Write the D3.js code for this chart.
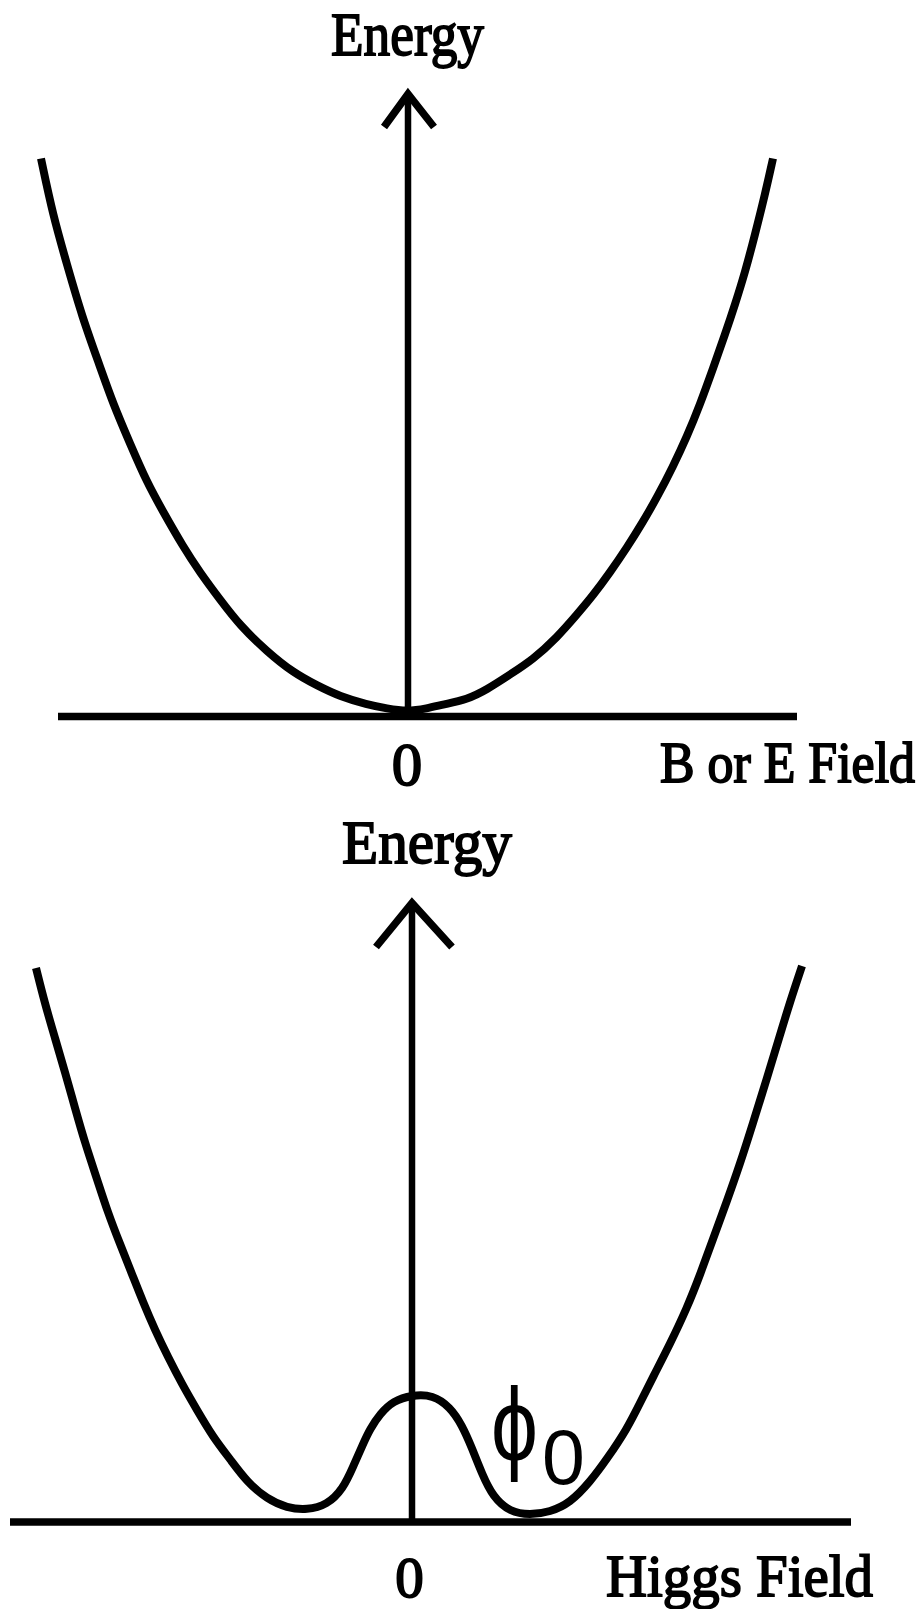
<!DOCTYPE html>
<html>
<head>
<meta charset="utf-8">
<script src="https://cdn.jsdelivr.net/npm/d3@7"></script>
<style>
  body { margin: 0; background: #fff; }
  svg { display: block; background: #fff; }
  .lbl {
    font-family: 'Liberation Serif', 'Times New Roman', serif;
    fill: #000;
    stroke: #000;
    stroke-width: 1.8px;
  }
  .greek { font-family: 'Liberation Sans', 'DejaVu Sans', sans-serif; fill: #000; }
</style>
</head>
<body>
<div class="container"></div>
<script>
// field values (1 unit ~ 100px) and energies
const bowlField = [-3.66, -3.54, -3.40, -3.25, -3.07, -2.94, -2.77, -2.60, -2.44, -2.24, -2.07, -1.87, -1.67, -1.40, -1.14, -0.90, -0.67, -0.40, -0.20, 0.00,
  0.20, 0.36, 0.60, 0.80, 1.03, 1.26, 1.50, 1.70, 1.86, 2.03, 2.20, 2.35, 2.50, 2.66, 2.80, 2.93, 3.06, 3.18, 3.28, 3.38, 3.48, 3.58, 3.66];
const bowlEnergy = [5.58, 5.01, 4.52, 4.00, 3.50, 3.13, 2.73, 2.34, 2.05, 1.70, 1.44, 1.17, 0.91, 0.65, 0.44, 0.31, 0.20, 0.12, 0.08, 0.05,
  0.08, 0.12, 0.17, 0.27, 0.42, 0.57, 0.79, 1.02, 1.21, 1.44, 1.69, 1.93, 2.19, 2.50, 2.80, 3.12, 3.48, 3.82, 4.12, 4.44, 4.82, 5.22, 5.58];

const higgsField = [-3.76, -3.67, -3.57, -3.47, -3.37, -3.27, -3.15, -3.04, -2.92, -2.80, -2.69, -2.57, -2.44, -2.30, -2.15, -1.99, -1.82, -1.65, -1.45, -1.25,
  -1.05, -0.85, -0.69, -0.59, -0.49, -0.42, -0.32, -0.19, 0.00, 0.21, 0.38, 0.50, 0.60, 0.70, 0.81, 0.98, 1.18, 1.38, 1.58, 1.78,
  1.95, 2.15, 2.28, 2.41, 2.58, 2.75, 2.88, 3.01, 3.15, 3.28, 3.41, 3.55, 3.68, 3.78, 3.90];
const higgsEnergy = [5.54, 5.18, 4.84, 4.50, 4.14, 3.79, 3.43, 3.09, 2.78, 2.48, 2.20, 1.92, 1.65, 1.38, 1.12, 0.85, 0.63, 0.40, 0.23, 0.14,
  0.12, 0.17, 0.33, 0.55, 0.78, 0.93, 1.08, 1.21, 1.27, 1.27, 1.15, 0.97, 0.74, 0.48, 0.25, 0.10, 0.07, 0.10, 0.19, 0.40,
  0.63, 0.93, 1.19, 1.45, 1.78, 2.14, 2.47, 2.83, 3.21, 3.58, 3.99, 4.44, 4.87, 5.20, 5.56];

const zeroTick = [0];
const yTitle = 'Energy';
const xTitles = ['B or E Field', 'Higgs Field'];
const minLabel = ['\u03D5', '0'];

const w = 921;
const h = 1609;

const svg = d3
  .select('.container')
  .append('svg')
  .attr('width', w)
  .attr('height', h);

// squeeze a label horizontally to the width it has in the picture
const fitText = (sel, x, y, width) => {
  const natural = sel.node().getComputedTextLength();
  sel
    .attr('x', 0)
    .attr('y', 0)
    .attr('transform', 'translate(' + x + ',' + y + ') scale(' + width / natural + ',1)');
};

const panels = [
  {
    field: bowlField,
    energy: bowlEnergy,
    x: d3.scaleLinear().domain([-4, 4]).range([7, 807]),
    y: d3.scaleLinear().domain([0, 7]).range([716.5, 16.5]),
    axisExtent: [-3.49, 3.9],
    arrow: { tip: 6.225, left: [-0.24, 5.895], right: [0.26, 5.895] },
    shaftDx: 1,
    yTitle: { x: 331, y: 55, len: 153, size: 62 },
    xTitle: { text: xTitles[0], x: 660, y: 782, len: 255, size: 56 },
    tick: { dy: 68.5, dx: -0.5, size: 61 }
  },
  {
    field: higgsField,
    energy: higgsEnergy,
    x: d3.scaleLinear().domain([-4, 4]).range([12, 812]),
    y: d3.scaleLinear().domain([0, 7]).range([1522, 822]),
    axisExtent: [-4.02, 4.39],
    arrow: { tip: 6.19, left: [-0.36, 5.75], right: [0.4, 5.75] },
    shaftDx: 0,
    yTitle: { x: 342, y: 863, len: 170, size: 62 },
    xTitle: { text: xTitles[1], x: 606, y: 1596, len: 267, size: 60 },
    tick: { dy: 75, dx: -3, size: 57 }
  }
];

panels.forEach((p, idx) => {
  const g = svg.append('g').attr('class', 'panel');
  const x0 = p.x(0) + p.shaftDx;

  // horizontal axis
  g.append('line')
    .attr('x1', p.x(p.axisExtent[0]))
    .attr('x2', p.x(p.axisExtent[1]))
    .attr('y1', p.y(0))
    .attr('y2', p.y(0))
    .attr('stroke', '#000')
    .attr('stroke-width', 7.5);

  // energy axis with arrow head
  g.append('line')
    .attr('x1', x0)
    .attr('x2', x0)
    .attr('y1', p.y(0))
    .attr('y2', p.y(p.arrow.tip) + 2)
    .attr('stroke', '#000')
    .attr('stroke-width', 6.5);

  const head = [p.arrow.left, [0, p.arrow.tip], p.arrow.right];
  g.append('path')
    .attr('d', d3.line()
      .x((d) => p.x(d[0]) + p.shaftDx)
      .y((d) => p.y(d[1]))(head))
    .attr('fill', 'none')
    .attr('stroke', '#000')
    .attr('stroke-width', 7.5)
    .attr('stroke-linejoin', 'miter');

  // potential curve
  const pts = p.field.map((f, i) => [f, p.energy[i]]);
  g.append('path')
    .attr('d', d3.line()
      .x((d) => p.x(d[0]))
      .y((d) => p.y(d[1]))
      .curve(d3.curveBasis)(pts))
    .attr('fill', 'none')
    .attr('stroke', '#000')
    .attr('stroke-width', 8);

  // zero tick label
  const ax = g.append('g')
    .attr('transform', 'translate(0,' + p.y(0) + ')')
    .call(d3.axisBottom(p.x).tickValues(zeroTick).tickSize(0).tickFormat(d3.format('d')));
  ax.select('.domain').remove();
  ax.selectAll('text')
    .attr('class', 'lbl')
    .attr('y', p.tick.dy)
    .attr('dy', null)
    .attr('dx', p.tick.dx)
    .attr('fill', '#000')
    .style('font-size', p.tick.size + 'px')
    .attr('font-family', null);

  const yt = g.append('text')
    .attr('class', 'lbl')
    .style('font-size', p.yTitle.size + 'px')
    .text(yTitle);
  fitText(yt, p.yTitle.x, p.yTitle.y, p.yTitle.len);

  const xt = g.append('text')
    .attr('class', 'lbl')
    .style('font-size', p.xTitle.size + 'px')
    .text(p.xTitle.text);
  fitText(xt, p.xTitle.x, p.xTitle.y, p.xTitle.len);

  if (idx === 1) {
    const phi = g.append('text')
      .attr('class', 'greek')
      .style('font-size', '104px')
      .text(minLabel[0]);
    fitText(phi, p.x(0.79), p.y(0.62), 47);
    g.append('text')
      .attr('class', 'greek')
      .attr('x', p.x(1.3))
      .attr('y', p.y(0.38))
      .style('font-size', '77px')
      .text(minLabel[1]);
  }
});
</script>
</body>
</html>
